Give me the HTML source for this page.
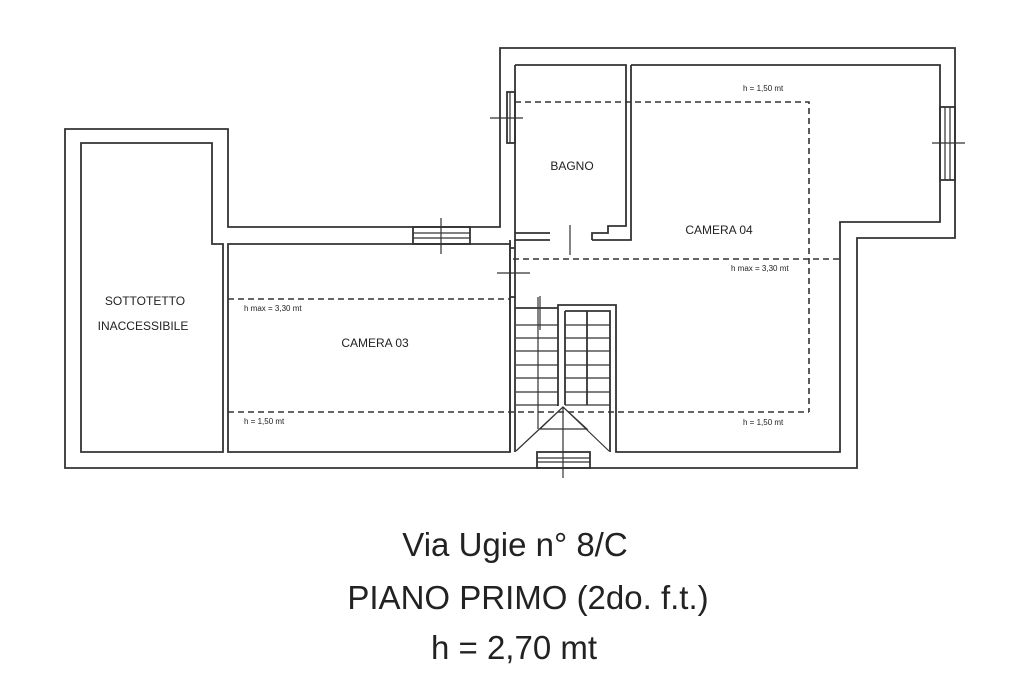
<!DOCTYPE html>
<html><head><meta charset="utf-8"><style>
html,body{margin:0;padding:0;background:#fff;}
svg{display:block;}
text{font-family:"Liberation Sans",Arial,sans-serif;fill:#222;}
</style></head><body>
<svg width="1024" height="683" viewBox="0 0 1024 683" xmlns="http://www.w3.org/2000/svg">
<g fill="none" stroke="#333" stroke-width="1.8">
<path d="M65 129 H228 V227 H500 V48 H955 V238 H857 V468 H65 Z"/>
<path d="M81 143 H212 V244 H223 V452 H81 Z"/>
<path d="M228 244 H510 V452 H228 Z"/>
<path d="M515 65 H626 V226 H608 V233 H592 V240 M550 240 H515 V65"/>
<path d="M550 233 H515"/>
<path d="M631 65 H940 V222 H840 V452 H616 V305 H558 V406"/>
<path d="M631 65 V240 H592"/>
<path d="M510 240 V248 H515 V240 M510 248 V297 M515 248 V297"/>
<path d="M510 297 H515 V452 M510 452 V297"/>
<path d="M515 308 H558"/>
<path d="M565 311 H610 V452 M565 311 V405"/>
<path d="M587 311 V405"/>
<path d="M565 325 H610 M565 338 H610 M565 351 H610 M565 365 H610 M565 378 H610 M565 392 H610 M565 405 H610" stroke-width="1.2"/>
<path d="M516 325 H558 M516 338 H558 M516 351 H558 M516 365 H558 M516 378 H558 M516 392 H558 M516 405 H558" stroke-width="1.2"/>
<path d="M538 297 V429" stroke-width="1.2"/>
<path d="M563 407 L540 429 H587 Z M563 407 L516 451 M563 407 L609 451 M563 407 V478" stroke-width="1.2"/>
<rect x="413" y="227" width="57" height="17"/>
<path d="M413 233 H470 M413 238 H470 M441 218 V254" stroke-width="1.2"/>
<rect x="537" y="452" width="53" height="16"/>
<path d="M537 458 H590 M537 462 H590" stroke-width="1.2"/>
<rect x="507" y="92" width="8" height="51"/>
<path d="M510 92 V143 M490 118 H523" stroke-width="1.2"/>
<rect x="940" y="107" width="15" height="73"/>
<path d="M945 107 V180 M950 107 V180 M932 143 H965" stroke-width="1.2"/>
<path d="M570 225 V255 M497 273 H530 M540 296 V330" stroke-width="1.2"/>
</g>
<g fill="none" stroke="#333" stroke-width="1.6" stroke-dasharray="6,4">
<path d="M515 102 H809 V412"/>
<path d="M228 412 H809"/>
<path d="M513 259 H840"/>
<path d="M228 299 H510"/>
</g>
<g font-size="8">
<text x="743" y="91">h = 1,50 mt</text>
<text x="731" y="271">h max = 3,30 mt</text>
<text x="743" y="425">h = 1,50 mt</text>
<text x="244" y="311">h max = 3,30 mt</text>
<text x="244" y="424">h = 1,50 mt</text>
</g>
<g font-size="12" text-anchor="middle">
<text x="145" y="305">SOTTOTETTO</text>
<text x="143" y="330">INACCESSIBILE</text>
<text x="375" y="347">CAMERA 03</text>
<text x="572" y="170">BAGNO</text>
<text x="719" y="234">CAMERA 04</text>
</g>
<g font-size="33" text-anchor="middle">
<text x="515" y="556">Via Ugie n° 8/C</text>
<text x="528" y="609">PIANO PRIMO (2do. f.t.)</text>
<text x="514" y="659">h = 2,70 mt</text>
</g>
</svg>
</body></html>
